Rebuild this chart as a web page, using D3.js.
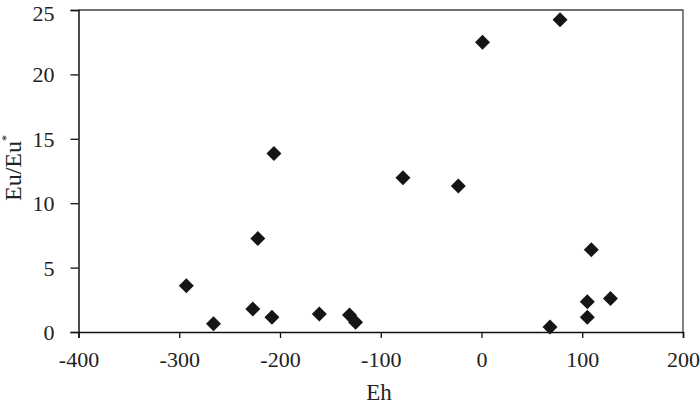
<!DOCTYPE html>
<html><head><meta charset="utf-8">
<script src="https://cdn.jsdelivr.net/npm/d3@7"></script>
<style>body{margin:0;background:#fff}svg{display:block}</style>
</head><body>
<svg id="c" width="700" height="405"></svg>
<script>
const ehValues = [-293, -266, -227, -222, -208, -206, -161, -131, -125, -78, -23, 1, 68, 78, 105, 105, 109, 128];
const euValues = [3.6, 0.65, 1.78, 7.25, 1.14, 13.85, 1.4, 1.32, 0.75, 11.98, 11.34, 22.49, 0.39, 24.25, 2.35, 1.14, 6.39, 2.61];
const xTicks = [-400, -300, -200, -100, 0, 100, 200];
const yTicks = [0, 5, 10, 15, 20, 25];
const xTitle = "Eh";

const svg = d3.select("#c");
const m = {l: 78.5, r: 683, t: 10, b: 332};
const x = d3.scaleLinear().domain([-400, 200]).range([m.l, m.r]);
const y = d3.scaleLinear().domain([0, 25]).range([m.b, m.t]);
const font = "'Liberation Serif', 'Times New Roman', Times, serif";

svg.append("path").attr("d", `M${m.l},${m.t}H${m.r}V${m.b}`)
  .attr("fill", "none").attr("stroke", "#444").attr("stroke-width", 1.3);

const fmt = d => String(d);
const xa = svg.append("g").attr("transform", `translate(0,${m.b})`)
  .call(d3.axisBottom(x).tickValues(xTicks).tickSize(6).tickPadding(13).tickFormat(fmt));
const ya = svg.append("g").attr("transform", `translate(${m.l},0)`)
  .call(d3.axisLeft(y).tickValues(yTicks).tickSize(8).tickPadding(16).tickFormat(fmt));
[xa, ya].forEach(a => {
  a.select(".domain").attr("stroke", "#111").attr("stroke-width", 1.5);
  a.selectAll(".tick line").attr("stroke", "#111").attr("stroke-width", 1.3);
  a.selectAll("text").attr("font-family", font).attr("font-size", 22).attr("fill", "#222");
});
ya.selectAll("text").attr("dy", "0.34em")
  .filter(d => d === 25).attr("y", 3);

svg.append("text").attr("x", 379).attr("y", 400).attr("text-anchor", "middle")
  .attr("font-family", font).attr("font-size", 23).attr("fill", "#222").text(xTitle);

const yl = svg.append("text").attr("transform", "translate(21,168) rotate(-90)")
  .attr("text-anchor", "middle").attr("font-family", font).attr("font-size", 24).attr("fill", "#222");
yl.append("tspan").text("Eu/Eu");
yl.append("tspan").attr("dy", -11).attr("font-size", 12).text("*");

const pts = ehValues.map((v, i) => [v, euValues[i]]);
const r = 7.5;
svg.append("g").selectAll("path").data(pts).join("path")
  .attr("transform", d => `translate(${x(d[0])},${y(d[1])})`)
  .attr("d", `M0,${-r}L${r},0L0,${r}L${-r},0Z`)
  .attr("fill", "#151515");
</script>
</body></html>
